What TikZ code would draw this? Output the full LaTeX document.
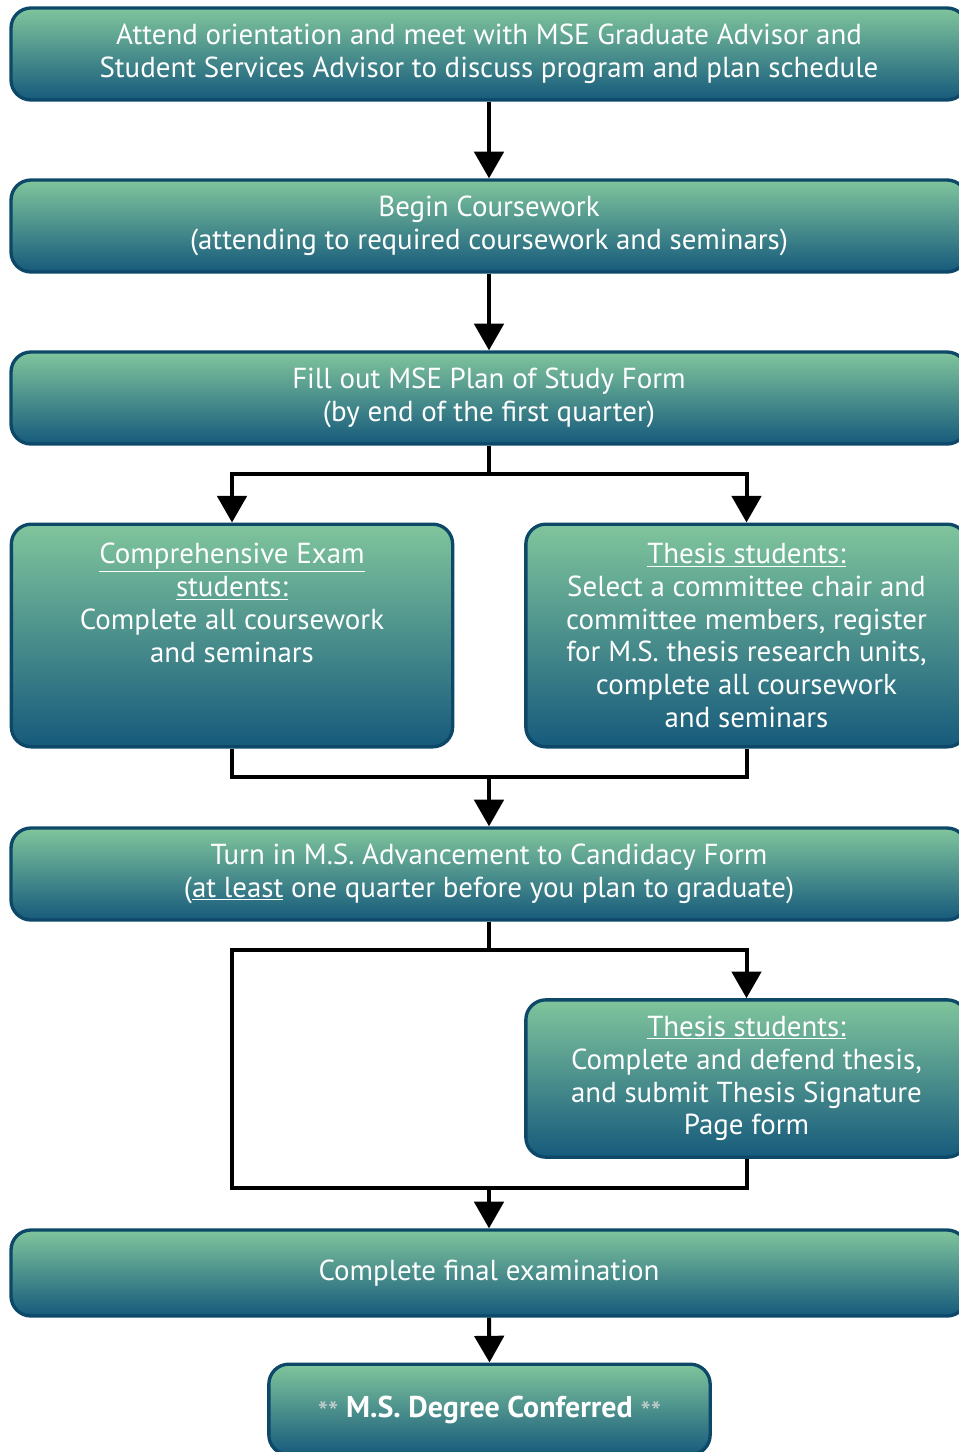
\documentclass[tikz,border=0pt]{standalone}
\usepackage{fontspec}
\setmainfont{PT Sans}
\usetikzlibrary{arrows.meta}
\definecolor{gtop}{HTML}{80C59C}
\definecolor{gbot}{HTML}{165A7C}
\definecolor{bord}{HTML}{0D4868}
\definecolor{stargray}{HTML}{C8D0D0}
\newcommand{\stars}{\raisebox{-0.35ex}{\textcolor{stargray}{\fontsize{22}{22}\selectfont **}}}
\begin{document}
\begin{tikzpicture}[x=0.75pt,y=-0.75pt,
 box/.style={draw=bord, line width=2.5pt, rounded corners=15pt, top color=gtop, bottom color=gbot, text=white, align=center, font=\fontsize{21.7}{24.6}\selectfont, inner sep=0pt},
 wide/.style={box, minimum width=717pt, minimum height=69pt},
 half/.style={box, minimum width=331pt},
 conn/.style={line width=3pt, black},
 arr/.style={conn, -{Triangle[length=20pt,width=22pt]}}]
\useasboundingbox (0,0) rectangle (959,1452);
\clip (0,0) rectangle (959,1452);

\node[wide] (b1) at (489,54) {Attend orientation and meet with MSE Graduate Advisor and\\Student Services Advisor to discuss program and plan schedule};
\node[wide] (b2) at (489,226) {Begin Coursework\\(attending to required coursework and seminars)};
\node[wide] (b3) at (489,398) {Fill out MSE Plan of Study Form\\(by end of the first quarter)};
\node[half, minimum height=167pt] (cl) at (232,635.5) {\underline{Comprehensive Exam}\\\underline{students:}\\Complete all coursework\\and seminars\\\mbox{}\\\mbox{}};
\node[half, minimum height=167pt] (cr) at (746.5,635.5) {\underline{Thesis students:}\\Select a committee chair and\\committee members, register\\for M.S. thesis research units,\\complete all coursework\\and seminars};
\node[wide] (b5) at (489,874) {Turn in M.S. Advancement to Candidacy Form\\(\underline{at least} one quarter before you plan to graduate)};
\node[half, minimum height=118pt] (t2) at (746.5,1078.5) {\underline{Thesis students:}\\Complete and defend thesis,\\and submit Thesis Signature\\Page form};
\node[wide, minimum height=64.5pt] (b6) at (489,1273) {Complete final examination};
\node[half, minimum height=68pt] (fin) at (489.5,1409.5) {\stars{} \textbf{\fontsize{22.5}{24}\selectfont M.S. Degree Conferred} \stars};

\coordinate (j1) at (489,474);
\coordinate (j2) at (489,777);
\coordinate (j3) at (489,950);
\coordinate (k1) at (232,950);
\coordinate (k2) at (232,1188);
\coordinate (j4) at (489,1188);

\draw[arr] (b1.south) -- (b2.north);
\draw[arr] (b2.south) -- (b3.north);
\draw[conn] (b3.south) -- (j1);
\draw[arr] (j1) -| (cl.north);
\draw[arr] (j1) -| (cr.north);
\draw[conn] (cl.south) |- (j2) -| (cr.south);
\draw[arr] (j2) -- (b5.north);
\draw[conn] (b5.south) -- (j3);
\draw[arr] (j3) -| (t2.north);
\draw[conn] (j3) -- (k1) -- (k2) -- (j4) -| (t2.south);
\draw[arr] (j4) -- (b6.north);
\draw[arr] (b6.south) -- (fin.north);
\end{tikzpicture}
\end{document}
